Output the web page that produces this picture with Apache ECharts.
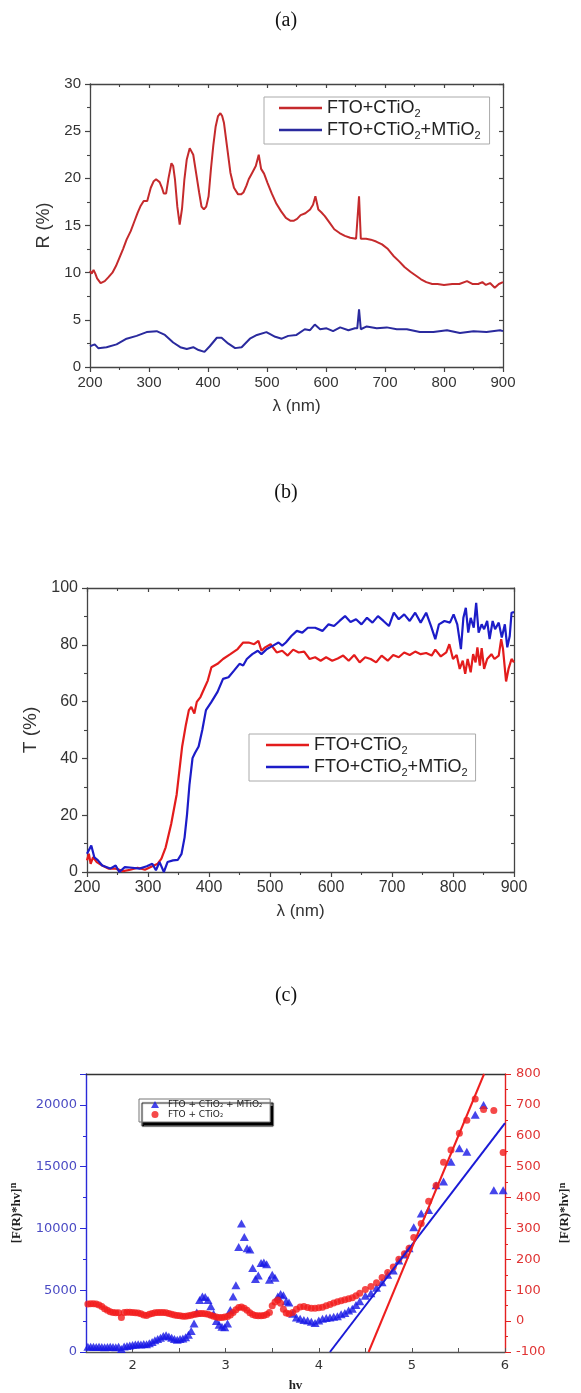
<!DOCTYPE html>
<html><head><meta charset="utf-8">
<script src="https://cdn.jsdelivr.net/npm/echarts@6/dist/echarts.min.js"></script>
<style>html,body{margin:0;padding:0;background:#fff}#c{width:581px;height:1393px}</style>
</head><body><div id="c"></div>
<script>
// ---------- Panel (a): reflectance R (%) vs wavelength ----------
const wlA1 = [200,203,206,209,212,218,225,231,238,244,250,256,262,269,275,281,286,291,297,303,308,312,318,322,325,329,333,338,341,344,348,352,356,360,364,369,372,375,380,385,389,393,397,401,405,409,413,417,421,424,427,432,438,444,451,456,460,465,469,475,481,486,490,495,501,508,516,524,532,540,545,551,557,565,573,578,582,587,592,598,606,614,623,632,641,651,653,656,659,668,676,685,695,705,714,724,733,743,752,761,770,780,789,800,814,826,839,848,858,865,871,878,886,893,900];
const rA1  = [10.2,9.9,10.3,9.9,9.4,8.9,9.1,9.5,10.0,10.7,11.6,12.5,13.5,14.4,15.4,16.4,17.1,17.6,17.6,19.0,19.7,19.9,19.6,19.0,18.4,18.4,20.0,21.6,21.3,19.9,17.0,15.1,16.8,19.9,22.0,23.2,23.0,22.5,20.5,18.5,17.0,16.7,17.0,18.1,21.0,23.5,25.5,26.6,26.9,26.6,25.9,23.5,20.6,19.0,18.3,18.3,18.5,19.2,19.9,20.6,21.3,22.5,21.0,20.5,19.5,18.4,17.3,16.5,15.8,15.5,15.5,15.7,16.1,16.3,16.7,17.2,18.1,16.7,16.4,16.0,15.3,14.6,14.2,13.9,13.7,13.6,13.6,18.1,13.6,13.6,13.5,13.3,13.0,12.5,11.8,11.2,10.6,10.1,9.7,9.3,9.0,8.8,8.8,8.7,8.8,8.8,9.1,8.8,8.8,9.0,8.7,8.9,8.4,8.8,9.0];
const wlA2 = [200,208,214,228,245,262,279,296,313,327,341,353,364,375,384,394,403,415,423,434,446,457,471,483,499,514,525,536,550,564,573,581,590,601,612,624,638,649,653,656,659,669,686,703,720,737,759,782,805,827,850,872,895,900];
const rA2  = [2.2,2.4,2.0,2.1,2.4,3.0,3.3,3.7,3.8,3.4,2.6,2.1,1.9,2.1,1.8,1.6,2.2,3.1,3.1,2.5,2.0,2.1,3.0,3.4,3.7,3.2,3.0,3.3,3.4,4.0,3.9,4.5,4.0,4.1,3.8,4.2,3.9,4.1,4.1,6.1,4.0,4.3,4.1,4.2,4.0,4.0,3.7,3.7,3.9,3.6,3.8,3.7,3.9,3.8];

// ---------- Panel (b): transmittance T (%) vs wavelength ----------
const wlB1 = [200,203,206,210,216,225,235,247,259,271,283,295,307,316,322,329,338,347,356,362,367,371,376,380,386,392,398,404,414,423,435,447,456,465,474,481,486,492,501,511,520,529,538,547,556,565,574,583,592,602,611,620,629,638,647,656,665,674,683,693,702,711,720,729,738,747,756,765,771,780,789,794,800,806,811,816,820,824,829,833,837,840,844,847,851,856,863,868,875,879,882,887,891,896,900];
const tB1  = [4.1,6.4,2.9,5.2,3.5,2.3,1.2,1.2,0.3,0.8,1.5,0.8,2.0,2.9,4.7,8.7,16.9,27.3,44.2,51.7,57.0,58.1,55.8,59.9,61.6,64.5,67.4,72.1,73.3,75.0,76.7,78.5,80.8,80.8,80.2,81.4,77.9,79.1,80.2,77.3,77.9,76.2,78.3,77.3,77.6,75.0,75.6,74.4,75.6,74.4,75.2,76.2,74.4,76.4,73.8,75.6,75.0,73.8,76.2,74.4,76.4,75.6,77.3,76.4,77.6,76.7,77.1,76.2,78.3,75.9,77.3,80.2,75.0,76.4,71.5,74.4,69.8,75.0,70.3,76.7,73.8,79.1,72.7,78.8,71.5,75.0,76.7,75.0,76.2,82.0,78.5,67.1,71.5,75.0,73.8];
const wlB2 = [200,203,207,212,218,225,238,247,253,262,274,286,298,307,313,319,326,332,341,349,355,360,364,368,373,377,383,389,395,404,414,423,432,441,450,456,462,471,480,486,495,505,514,520,526,535,544,553,562,574,586,596,605,614,623,632,641,650,659,668,677,686,695,703,711,720,729,738,747,756,764,771,777,786,795,801,807,813,817,821,825,829,834,838,842,847,851,856,860,865,869,875,880,885,889,893,896,900];
const tB2  = [6.4,7.0,9.3,5.2,4.1,2.3,1.2,2.3,0.0,1.7,1.5,1.2,2.0,2.9,0.6,3.5,0.0,3.5,4.1,4.3,6.4,12.2,20.3,30.8,40.1,41.9,44.2,50.0,57.0,59.9,63.4,68.0,68.6,70.9,73.3,72.7,75.0,76.7,77.9,76.7,78.5,79.7,80.8,79.7,80.8,83.1,84.9,84.3,86.0,86.0,84.9,87.2,86.6,88.4,90.1,88.0,89.0,87.2,89.5,87.8,90.1,88.4,86.6,91.3,89.0,90.7,88.4,91.3,87.8,91.3,86.6,82.0,87.2,88.4,87.8,90.7,87.2,78.5,89.5,93.0,84.3,89.5,86.0,94.8,84.3,87.2,85.5,88.4,82.0,88.4,85.5,87.8,82.6,87.2,79.1,83.1,91.3,91.5];

// ---------- Panel (c): [F(R)*hv]^n vs hv ----------
const hvC = [1.52,1.55,1.58,1.61,1.64,1.67,1.70,1.73,1.76,1.79,1.82,1.85,1.88,1.91,1.94,1.97,2.00,2.03,2.06,2.09,2.12,2.15,2.18,2.21,2.24,2.27,2.30,2.33,2.36,2.39,2.42,2.45,2.48,2.51,2.54,2.57,2.60,2.63,2.66,2.69,2.72,2.75,2.78,2.81,2.84,2.87,2.90,2.93,2.96,2.99,3.02,3.05,3.08,3.11,3.14,3.17,3.20,3.23,3.26,3.29,3.32,3.35,3.38,3.41,3.44,3.47,3.50,3.53,3.56,3.59,3.62,3.65,3.68,3.72,3.76,3.80,3.84,3.88,3.92,3.96,4.00,4.04,4.08,4.12,4.16,4.20,4.24,4.28,4.32,4.36,4.40,4.44,4.50,4.56,4.62,4.68,4.74,4.80,4.86,4.92,4.97,5.02,5.10,5.18,5.26,5.34,5.42,5.51,5.59,5.68,5.77,5.88,5.98];
const blueC = [420,430,420,410,420,400,380,400,420,400,380,420,250,450,480,520,560,600,620,600,640,620,700,800,950,1050,1150,1300,1350,1250,1150,1050,1000,1050,1100,1200,1400,1700,2300,3200,4200,4500,4450,4200,3700,3100,2500,2200,2050,2000,2300,3400,4500,5400,8500,10400,9300,8400,8300,6800,5900,6200,7200,7250,7100,5850,6250,6000,4500,4700,4600,4100,4000,3100,2800,2700,2600,2550,2450,2350,2550,2700,2750,2800,2850,2900,3050,3150,3350,3500,3800,4100,4550,4750,5200,5650,6250,6600,7400,7900,8400,10100,11200,11500,13500,13800,15400,16500,16200,19200,20000,13100,13100];
const redC = [55,56,56,55,52,47,40,35,30,28,27,27,12,28,29,29,28,27,26,24,20,18,22,25,27,28,28,28,27,25,22,20,18,17,16,16,17,19,21,23,25,25,24,22,19,16,13,12,12,13,15,20,28,37,44,46,42,35,27,21,18,17,17,18,21,28,50,62,68,58,38,26,24,28,38,46,47,44,42,42,43,45,50,54,59,63,66,69,72,76,82,90,102,112,124,141,157,175,200,218,236,271,316,388,439,514,554,608,650,719,685,682,546];
// linear fits (band-gap extrapolation)
const fitBlueX = [4.12, 6.0];
const fitBlueY = [0, 18530];
const fitRedX = [4.535, 5.775];
const fitRedY = [-100, 800];

// tick settings
const xTicksAB = {min: 200, max: 900, interval: 100};
const yTicksA = {min: 0, max: 30, interval: 5};
const yTicksB = {min: 0, max: 100, interval: 20};
const xTicksC = {min: 1.5, max: 6, interval: 0.5};
const yTicksCL = {min: 0, max: 22500, interval: 5000};
const yTicksCR = {min: -100, max: 800, interval: 100};

const zip = (xs, ys) => xs.map((x, i) => [x, ys[i]]);
const SANS = 'Liberation Sans, Arial, sans-serif';
const SERIF = 'Liberation Serif, Times New Roman, serif';
const DJ = 'DejaVu Sans, sans-serif';

const legendText = {
  a1: '{t|FTO+CTiO}{s|2}', a2: '{t|FTO+CTiO}{s|2}{t|+MTiO}{s|2}',
  b1: '{t|FTO+CTiO}{s|2}', b2: '{t|FTO+CTiO}{s|2}{t|+MTiO}{s|2}',
  c1: '{t|FTO + CTiO}{s|2}{t| + MTiO}{s|2}', c2: '{t|FTO + CTiO}{s|2}'
};
const bigRich = {
  t: {fontSize: 18, fontFamily: SANS, color: '#222', lineHeight: 22},
  s: {fontSize: 11, fontFamily: SANS, color: '#222', lineHeight: 11, verticalAlign: 'bottom'}
};
const smallRich = {
  t: {fontSize: 9, fontFamily: DJ, color: '#222', lineHeight: 8},
  s: {fontSize: 5, fontFamily: DJ, color: '#222', lineHeight: 4, verticalAlign: 'bottom'}
};

function frameX(gridIndex, r, pos, withLabels, name, fs) {
  const o = {
    type: 'value', gridIndex, position: pos, min: r.min, max: r.max, interval: r.interval,
    splitLine: {show: false},
    axisLine: {show: true, onZero: false, lineStyle: {color: '#444', width: 1.3}},
    axisTick: {show: true, inside: !withLabels, length: withLabels ? 5 : 4, lineStyle: {color: '#444', width: 1.2}},
    minorTick: {show: true, splitNumber: 2, length: 3, lineStyle: {color: '#444', width: 1.1}},
    axisLabel: {show: withLabels, fontSize: fs || 15, color: '#333', fontFamily: SANS, margin: 8}
  };
  if (name) {
    o.name = name; o.nameLocation = 'middle'; o.nameGap = 31;
    o.nameTextStyle = {fontSize: 17, color: '#333', fontFamily: SANS};
  }
  return o;
}
function frameY(gridIndex, r, pos, withLabels, name, gap, fs) {
  const o = {
    type: 'value', gridIndex, position: pos, min: r.min, max: r.max, interval: r.interval,
    splitLine: {show: false},
    axisLine: {show: true, onZero: false, lineStyle: {color: '#444', width: 1.3}},
    axisTick: {show: true, inside: !withLabels, length: withLabels ? 5 : 4, lineStyle: {color: '#444', width: 1.2}},
    minorTick: {show: true, splitNumber: 2, length: 3, lineStyle: {color: '#444', width: 1.1}},
    axisLabel: {show: withLabels, fontSize: fs, color: '#333', fontFamily: SANS, margin: 9}
  };
  if (name) {
    o.name = name; o.nameLocation = 'middle'; o.nameGap = gap; o.nameRotate = 90;
    o.nameTextStyle = {fontSize: fs + 3, color: '#333', fontFamily: SANS};
  }
  return o;
}

const xAxis = [
  frameX(0, xTicksAB, 'bottom', true, 'λ (nm)', 15),
  frameX(0, xTicksAB, 'top', false),
  frameX(1, xTicksAB, 'bottom', true, 'λ (nm)', 16),
  frameX(1, xTicksAB, 'top', false),
  {
    type: 'value', gridIndex: 2, position: 'bottom', min: xTicksC.min, max: xTicksC.max, interval: xTicksC.interval,
    splitLine: {show: false},
    axisLine: {show: true, onZero: false, lineStyle: {color: '#555', width: 1.3}},
    axisTick: {show: true, inside: true, length: 4, lineStyle: {color: '#555'}},
    axisLabel: {fontSize: 13, color: '#333', fontFamily: DJ, margin: 7,
      formatter: v => Number.isInteger(v) ? String(v) : ''},
    name: 'hv', nameLocation: 'middle', nameGap: 27,
    nameTextStyle: {fontSize: 13, fontWeight: 'bold', fontFamily: SERIF, color: '#222'}
  },
  {
    type: 'value', gridIndex: 2, position: 'top', min: xTicksC.min, max: xTicksC.max, interval: xTicksC.interval,
    splitLine: {show: false}, axisTick: {show: false}, axisLabel: {show: false},
    axisLine: {show: true, onZero: false, lineStyle: {color: '#333', width: 1.3}}
  }
];

const cName = '[F(R)*hv]{n|n}';
const cNameStyle = {fontSize: 13, fontWeight: 'bold', fontFamily: SERIF, color: '#222', lineHeight: 16,
  rich: {n: {fontSize: 10, fontWeight: 'bold', fontFamily: SERIF, color: '#222', lineHeight: 8, verticalAlign: 'top'}}};

const yAxis = [
  frameY(0, yTicksA, 'left', true, 'R (%)', 37, 15),
  frameY(0, yTicksA, 'right', false),
  frameY(1, yTicksB, 'left', true, 'T (%)', 46, 16),
  frameY(1, yTicksB, 'right', false),
  {
    type: 'value', gridIndex: 2, position: 'left', min: yTicksCL.min, max: yTicksCL.max, interval: yTicksCL.interval,
    splitLine: {show: false},
    axisLine: {show: true, onZero: false, lineStyle: {color: '#2a2ad8', width: 1.4}},
    axisTick: {show: true, length: 6, lineStyle: {color: '#2a2ad8'}},
    minorTick: {show: true, splitNumber: 2, length: 3, lineStyle: {color: '#2a2ad8'}},
    axisLabel: {fontSize: 13, color: '#4b4bc4', fontFamily: DJ, margin: 9, showMaxLabel: false,
      formatter: v => String(v)},
    name: cName, nameLocation: 'middle', nameGap: 52, nameRotate: 90, nameTextStyle: cNameStyle
  },
  {
    type: 'value', gridIndex: 2, position: 'right', min: yTicksCR.min, max: yTicksCR.max, interval: yTicksCR.interval,
    splitLine: {show: false},
    axisLine: {show: true, onZero: false, lineStyle: {color: '#e42020', width: 1.4}},
    axisTick: {show: true, length: 6, lineStyle: {color: '#e42020'}},
    minorTick: {show: true, splitNumber: 2, length: 3, lineStyle: {color: '#e42020'}},
    axisLabel: {fontSize: 13, color: '#e03434', fontFamily: DJ, margin: 11, formatter: v => String(v)},
    name: cName, nameLocation: 'middle', nameGap: 52, nameRotate: 90, nameTextStyle: cNameStyle
  }
];

const lineS = (name, xi, yi, data, color, w) => ({
  name, type: 'line', xAxisIndex: xi, yAxisIndex: yi, data, symbol: 'none', showSymbol: false,
  lineStyle: {color, width: w}, itemStyle: {color}, z: 3
});

const lineLegend = (names, left, top, padding) => ({
  data: names.map(n => ({name: n, icon: 'rect'})), orient: 'vertical', left, top, padding, itemGap: 2,
  itemWidth: 43, itemHeight: 2.5, borderColor: '#aaa', borderWidth: 1, backgroundColor: '#fff',
  formatter: n => legendText[n], textStyle: {rich: bigRich}, selectedMode: false
});

const option = {
  animation: false,
  backgroundColor: '#fff',
  grid: [
    {left: 90, top: 84, width: 413, height: 283},
    {left: 87, top: 588, width: 427, height: 284},
    {left: 86, top: 1074, width: 427, height: 281}
  ],
  xAxis, yAxis,
  legend: [
    lineLegend(['a1', 'a2'], 264, 97, [2, 9, 3, 15]),
    lineLegend(['b1', 'b2'], 249, 734, [2, 8, 3, 17]),
    {data: [{name: 'c1', icon: 'triangle'}, {name: 'c2', icon: 'circle'}], orient: 'vertical', left: 139, top: 1099,
      padding: [1, 8, 3, 12], itemGap: 1, itemWidth: 8, itemHeight: 7,
      borderColor: '#777', borderWidth: 1, backgroundColor: '#fff',
      shadowColor: '#000', shadowBlur: 1, shadowOffsetX: 3, shadowOffsetY: 4,
      formatter: n => legendText[n], textStyle: {rich: smallRich, padding: [0, 0, 0, 4]}, selectedMode: false}
  ],
  graphic: [
    {type: 'text', x: 286, y: 21, style: {text: '(a)', fontSize: 20, fontFamily: SERIF, fill: '#111', align: 'center', verticalAlign: 'middle'}},
    {type: 'text', x: 286, y: 493, style: {text: '(b)', fontSize: 20, fontFamily: SERIF, fill: '#111', align: 'center', verticalAlign: 'middle'}},
    {type: 'text', x: 286, y: 996, style: {text: '(c)', fontSize: 20, fontFamily: SERIF, fill: '#111', align: 'center', verticalAlign: 'middle'}}
  ],
  series: [
    lineS('a1', 0, 0, zip(wlA1, rA1), '#c52a2c', 2),
    lineS('a2', 0, 0, zip(wlA2, rA2), '#2a2a9e', 2),
    lineS('b1', 2, 2, zip(wlB1, tB1), '#e31c1c', 2.2),
    lineS('b2', 2, 2, zip(wlB2, tB2), '#1c1cc8', 2.2),
    {name: 'c1', type: 'scatter', xAxisIndex: 4, yAxisIndex: 4, data: zip(hvC, blueC),
      symbol: 'triangle', symbolSize: [9, 8], itemStyle: {color: '#1616e6'}, z: 2},
    {name: 'c2', type: 'scatter', xAxisIndex: 4, yAxisIndex: 5, data: zip(hvC, redC),
      symbol: 'circle', symbolSize: 7, itemStyle: {color: '#f21c1c'}, z: 2},
    {type: 'line', xAxisIndex: 4, yAxisIndex: 4, data: zip(fitBlueX, fitBlueY), symbol: 'none',
      lineStyle: {color: '#1a1ad6', width: 2}, z: 4},
    {type: 'line', xAxisIndex: 4, yAxisIndex: 5, data: zip(fitRedX, fitRedY), symbol: 'none',
      lineStyle: {color: '#ee1e1e', width: 2}, z: 4}
  ]
};

const chart = echarts.init(document.getElementById('c'), null, {renderer: 'canvas'});
chart.setOption(option);
</script></body></html>
